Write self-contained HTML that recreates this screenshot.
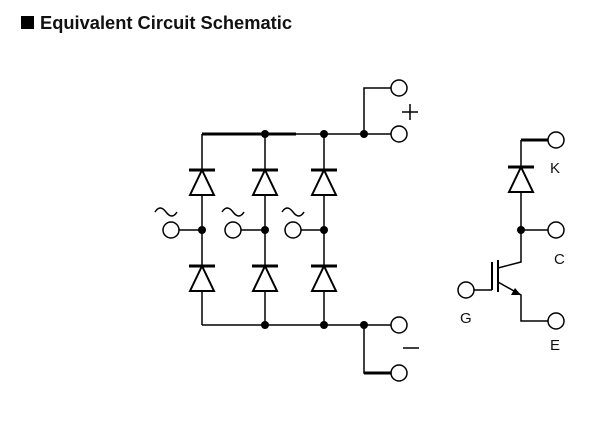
<!DOCTYPE html>
<html><head><style>
body{margin:0;background:#fff;width:615px;height:431px;overflow:hidden}
</style></head><body>
<svg width="615" height="431" xmlns="http://www.w3.org/2000/svg" font-family="Liberation Sans, sans-serif">
<rect x="21" y="16" width="13" height="13" fill="#000"/>
<text x="40" y="29" font-size="18" font-weight="bold" fill="#111" textLength="252" lengthAdjust="spacingAndGlyphs">Equivalent Circuit Schematic</text>
<g stroke="#000" stroke-width="1.5" fill="none">
<path d="M202 134H391 M202 325H391 M202 134V170 M202 195V266 M202 290V325 M265 134V170 M265 195V266 M265 290V325 M324 134V170 M324 195V266 M324 290V325"/>
<path d="M202 134H296" stroke-width="3"/>
<path d="M364 134V88H391 M364 325V373H391"/>
<path d="M364 373H391" stroke-width="3"/>
<path d="M179 230H202 M241 230H265 M301 230H324"/>
<g id="d">
<path d="M190 195L202 170L214 195Z" stroke-width="2"/>
<path d="M189 170H215" stroke-width="3"/>
</g>
<use href="#d" x="63"/><use href="#d" x="122"/>
<use href="#d" y="96"/><use href="#d" x="63" y="96"/><use href="#d" x="122" y="96"/>
<circle cx="399" cy="88" r="8" fill="#fff"/>
<circle cx="399" cy="134" r="8" fill="#fff"/>
<circle cx="399" cy="325" r="8" fill="#fff"/>
<circle cx="399" cy="373" r="8" fill="#fff"/>
<circle cx="171" cy="230" r="8" fill="#fff"/>
<circle cx="233" cy="230" r="8" fill="#fff"/>
<circle cx="293" cy="230" r="8" fill="#fff"/>
<path d="M155 212q5-8 11 0t11 0 M222 212q5-8 11 0t11 0 M282 212q5-8 11 0t11 0"/>
<path d="M402 112H418 M410 104V120 M403 348H419"/>
<path d="M521 140H549 M521 140V167 M521 192V262 L498 268 M498 282L521 295V321H549 M521 230H549 M474 290H492"/>
<path d="M521 140H549" stroke-width="3"/>
<path d="M509 192L521 167L533 192Z" stroke-width="2"/>
<path d="M508 167H534" stroke-width="3"/>
<path d="M492 262V290 M498 260V292" stroke-width="2"/>
<circle cx="556" cy="140" r="8" fill="#fff"/>
<circle cx="556" cy="230" r="8" fill="#fff"/>
<circle cx="556" cy="321" r="8" fill="#fff"/>
<circle cx="466" cy="290" r="8" fill="#fff"/>
</g>
<path d="M521 295L511 295L515 288Z" fill="#000"/>
<g fill="#000">
<circle cx="265" cy="134" r="4"/><circle cx="324" cy="134" r="4"/><circle cx="364" cy="134" r="4"/>
<circle cx="265" cy="325" r="4"/><circle cx="324" cy="325" r="4"/><circle cx="364" cy="325" r="4"/>
<circle cx="202" cy="230" r="4"/><circle cx="265" cy="230" r="4"/><circle cx="324" cy="230" r="4"/>
<circle cx="521" cy="230" r="4"/>
</g>
<g font-size="15" fill="#111">
<text x="550" y="173">K</text>
<text x="554" y="264">C</text>
<text x="460" y="323">G</text>
<text x="550" y="350">E</text>
</g>
</svg>
</body></html>
